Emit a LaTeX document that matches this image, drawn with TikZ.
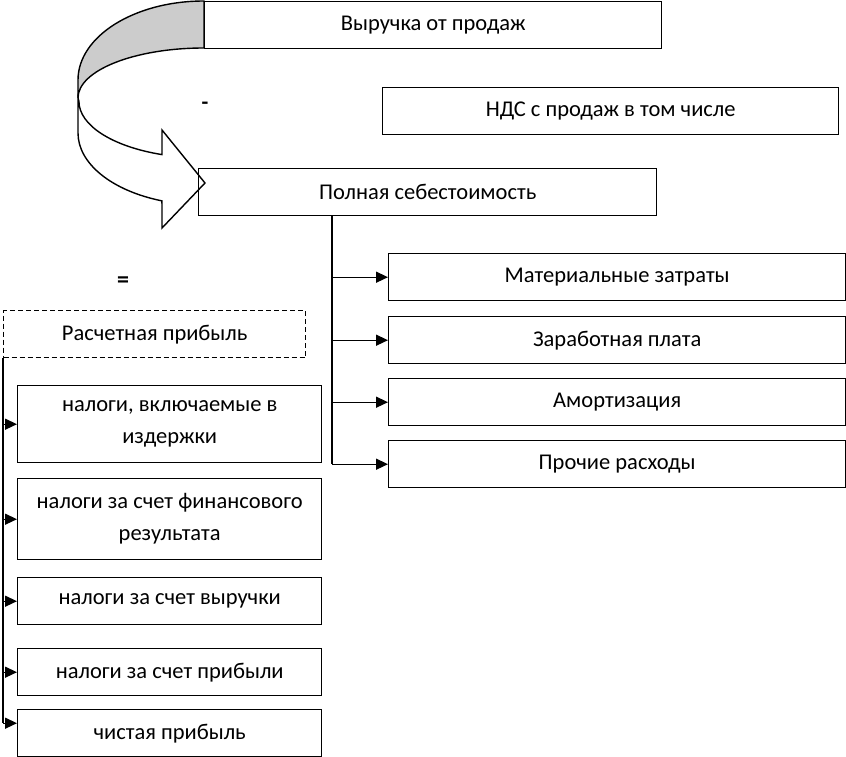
\documentclass[tikz,border=0pt]{standalone}
\usepackage{fontspec}
\setmainfont{Carlito}
\usetikzlibrary{arrows.meta}
\tikzset{
  box/.style={draw, line width=1.4pt, inner sep=0pt, anchor=north west, align=center,
    font=\fontsize{22.5}{32}\selectfont},
  rbox/.style={box, minimum width=457pt, minimum height=47pt},
  lbox/.style={box, minimum width=304pt},
  conn/.style={line width=1.4pt},
  rarr/.style={conn, -{Triangle[length=12pt,width=11pt]}},
  larr/.style={conn, -{Triangle[length=12pt,width=11pt]}},
}
\begin{document}
\begin{tikzpicture}[x=1pt,y=-1pt]
\useasboundingbox (0,0) rectangle (846,757);
% curved arrow (gray back band)
\path[fill=black!20, draw=black, line width=1.4pt]
  (204,1) arc (-90:-180:126 and 79) -- (78,98) arc (180:270:126 and 50) -- cycle;
% front band with head
\path[fill=white, draw=black, line width=1.4pt, line join=miter]
  (78,98) -- (78,133) arc (180:109.5:126 and 72) -- (162,228) -- (205,183) -- (162,130)
  -- (162,154.6) arc (109.6:180:125 and 56.6) -- cycle;
% boxes
\node[rbox, minimum width=457pt] (rev) at (204,1) {Выручка от продаж};
\node[rbox, minimum width=456pt] (nds) at (382,87) {НДС с продаж в том числе};
\node[rbox, minimum width=458pt] (seb) at (198,168) {Полная себестоимость};
\node[rbox] (mat) at (388,253) {Материальные затраты};
\node[rbox] (zp) at (388,316) {Заработная плата};
\node[rbox] (am) at (388,378) {Амортизация};
\node[rbox] (pr) at (388,440) {Прочие расходы};
\node[box, dash pattern=on 5pt off 3pt, minimum width=302pt, minimum height=47pt] (rasch) at (3,310) {Расчетная прибыль};
\node[lbox, minimum height=77pt, text depth=4pt] (n1) at (17,385) {налоги, включаемые в\\издержки};
\node[lbox, minimum height=81pt, text depth=4pt] (n2) at (17,478) {налоги за счет финансового\\результата};
\node[lbox, minimum height=47pt] (n3) at (17,577) {налоги за счет выручки};
\node[lbox, minimum height=47pt] (n4) at (17,648) {налоги за счет прибыли};
\node[lbox, minimum height=47pt] (n5) at (17,709) {чистая прибыль};
% signs
\node[font=\fontsize{22}{24}\selectfont\bfseries] (minus) at (205,106) {-};
\node[font=\fontsize{24}{26}\selectfont\bfseries] (eq) at (123,282) {=};
% right connectors
\coordinate (rt) at (332,0);
\draw[conn] (seb.south -| rt) -- (rt |- pr.west);
\foreach \b in {mat,zp,am,pr}
  \draw[rarr] (rt |- \b.west) -- (\b.west);
% left connectors
\coordinate (lt) at (3,0);
\coordinate (n5a) at ([yshift=10pt]n5.west);
\draw[conn] (rasch.south west) -- (lt |- n5a);
\foreach \b in {n1,n2,n3,n4}
  \draw[larr] (lt |- \b.west) -- (\b.west);
\draw[larr] (lt |- n5a) -- (n5a);
\end{tikzpicture}
\end{document}
